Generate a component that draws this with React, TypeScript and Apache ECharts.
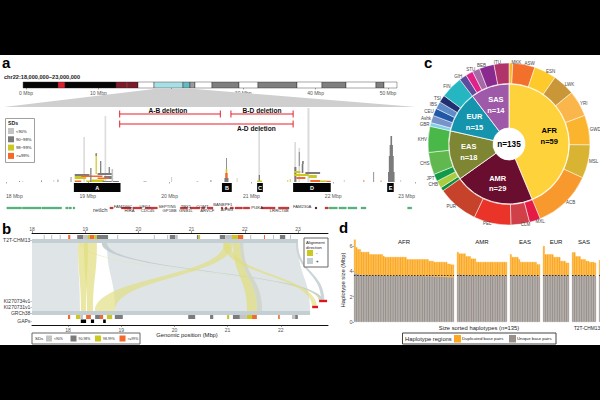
import React, { useEffect, useRef } from "react";
import * as echarts from "echarts";

const FONT = "'Liberation Sans', Arial, sans-serif";
const SD_COLORS = ["#c4c4c4", "#7b7b7b", "#cbc823", "#f3682b", "#dcdcdc"];

// Panel a: ideogram [start Mbp, end Mbp, colour]
const ideogramBands: [number, number, string][] = [
  [-0.4, 4.42, "#050505"], [4.42, 5.39, "#d7232e"], [5.39, 12.43, "#050505"], [12.43, 13.8, "#7d1b28"],
  [13.8, 14.1, "#a8303a"], [14.1, 15.47, "#7d1b28"], [15.47, 17.68, "#ffffff"], [17.68, 21.68, "#a8dfe4"],
  [21.68, 22.65, "#68b8c0"], [22.65, 23.34, "#9c9c9c"], [23.34, 25.69, "#ffffff"], [25.69, 29.42, "#7f7f7f"],
  [29.42, 32.04, "#ffffff"], [32.04, 37.43, "#7f7f7f"], [37.43, 40.88, "#ffffff"], [40.88, 44.2, "#7f7f7f"],
  [44.2, 48.34, "#ffffff"], [48.34, 49.45, "#7f7f7f"], [49.45, 51.24, "#ffffff"],
];
const ideogramTicks = [0, 10, 20, 30, 40, 50];

// Panel a: SD segments [start, end, low, high, class]
const sdSegments: number[][] = [
  [18.945, 18.965, 0, 45, 4], [19.205, 19.225, 0, 66, 4], [21.085, 21.105, 0, 55, 4], [21.525, 21.545, 0, 40, 4],
  [21.575, 21.595, 0, 34, 4], [21.685, 21.71, 0, 74, 4], [19.095, 19.11, 8, 28, 2], [19.095, 19.11, 26, 29, 1],
  [18.84, 19.02, 6, 8, 1], [18.84, 18.98, 3, 6, 2], [18.92, 19.18, 5, 6.5, 3], [18.84, 18.92, 0, 1.5, 3],
  [18.98, 19.05, 0, 1.5, 2], [19.03, 19.045, 0, 14, 1], [19.12, 19.3, 7, 9, 1], [19.15, 19.165, 9, 21, 1],
  [19.2, 19.3, 3, 6, 1], [19.255, 19.27, 9, 15, 1], [19.12, 19.26, 3, 4.5, 3], [19.05, 19.2, 0, 2.5, 2],
  [19.18, 19.38, 0, 1, 1], [19.29, 19.31, 0, 13, 0], [18.43, 18.44, 0, 1.5, 1], [18.16, 18.17, 0, 1, 1],
  [18.63, 18.64, 0, 2.5, 1], [18.79, 18.8, 0, 5, 1], [18.58, 18.59, 0, 2, 0], [19.68, 19.72, 0, 1, 0], [18.2, 18.21, 0, 1, 0],
  [20.02, 20.03, 0, 5, 0], [20.67, 20.72, 0, 4, 1], [20.68, 20.71, 4, 9, 3], [20.685, 20.705, 9, 13, 2],
  [20.69, 20.7, 13, 24, 1], [20.33, 20.35, 0, 1, 0], [20.82, 20.83, 0, 4, 0], [20.5, 20.51, 0, 2, 1],
  [21.07, 21.13, 0, 1.5, 2], [21.09, 21.105, 1.5, 7, 1], [21.44, 21.45, 0, 2, 2], [21.47, 21.48, 0, 3, 2],
  [21.525, 21.55, 0, 15, 1], [21.52, 21.7, 6, 8, 2], [21.52, 21.6, 9, 11, 2], [21.55, 21.66, 3, 5, 3],
  [21.615, 21.635, 9, 18, 1], [21.62, 21.64, 18, 21, 1], [21.66, 21.84, 8, 10, 1], [21.7, 21.8, 4, 7, 2],
  [21.72, 21.84, 0, 2, 3], [21.84, 21.92, 0, 1.5, 2], [21.92, 21.97, 0, 1.2, 3], [21.58, 21.59, 16, 30, 1],
  [22.13, 22.14, 0, 2, 0], [22.37, 22.38, 0, 2, 3], [22.58, 22.59, 0, 1.5, 3], [22.49, 22.5, 0, 10, 1],
  [22.7, 22.72, 0, 46, 1], [22.69, 22.73, 0, 37, 1], [22.68, 22.74, 0, 26, 1], [22.67, 22.75, 0, 10, 1],
  [22.82, 22.83, 0, 2, 0],
];

// Panel a: black SD regions [start, end, label]
const regionStarts = [18.83, 20.64, 21.07, 21.51, 22.66];
const regionEnds = [19.4, 20.76, 21.14, 21.97, 22.74];
const regionNames = ["A", "B", "C", "D", "E"];

// Panel a: deletions [start, end, level]
const deletionSpans: number[][] = [[19.39, 20.62, 68], [20.75, 21.51, 68], [19.39, 21.51, 58]];
const deletionLabels: [string, number, number][] = [
  ["A-B deletion", 19.98, 71.5], ["B-D deletion", 21.13, 72], ["A-D deletion", 21.06, 54],
];

// Panel a: genes [start, end, class 0 green 1 red 2 black]
const geneBlocks: number[][] = [
  [18.01, 18.19, 0], [18.2, 18.43, 0], [18.44, 18.68, 0], [18.73, 18.76, 0], [18.77, 18.8, 0], [18.82, 18.84, 0],
  [19.27, 19.31, 1], [19.41, 19.53, 1], [19.55, 19.66, 1], [19.7, 19.85, 1], [20.13, 20.22, 1], [20.25, 20.37, 1],
  [20.39, 20.43, 1], [20.46, 20.53, 1], [20.63, 20.65, 1], [20.68, 20.7, 1], [20.74, 20.78, 1], [20.8, 20.84, 1],
  [20.84, 20.89, 1], [20.9, 20.98, 1], [21.12, 21.29, 1], [21.33, 21.46, 1], [21.78, 21.8, 2], [21.9, 21.94, 1],
  [21.95, 22.05, 0], [22.07, 22.16, 0], [22.18, 22.29, 0], [22.34, 22.4, 0], [22.91, 22.96, 0],
];
const geneNames: [string, number, number][] = [
  ["FAM246C", 19.43, 4], ["HIRA", 19.51, -5], ["UFD1", 19.7, 4], ["CDC45", 19.73, -5], ["SEPTIN5", 19.97, 4],
  ["GP1BB", 20.0, -5], ["TBX1", 20.2, 4], ["GNB1L", 20.2, -5], ["COMT", 20.4, 4], ["ARVCF", 20.46, -5],
  ["BANBPF1", 20.65, 7], ["AIFM3", 20.7, -3], ["PI4KA", 21.07, 2], ["LRRC74B", 21.34, -5], ["FAM230A", 21.62, 4],
];

// Panel b: alignment ribbons [T2T start, T2T end, GRCh38 start, GRCh38 end, lower row, colour, opacity]
const T2T_OFFSET = 0.677;
const ribbons: [number, number, number, number, number, string, number][] = [
  [18.0, 18.865, 17.323, 18.226, 78, "#dfe5e6", 1],
  [19.41, 23.0, 18.883, 22.55, 78, "#dfe5e6", 1],
  [19.31, 19.41, 22.72, 22.79, 68, "#bfcbce", 0.9],
  [22.96, 23.0, 22.76, 22.82, 68, "#ccd5d8", 1],
  [21.91, 21.97, 21.55, 21.65, 78, "#cfd6c8", 0.9],
  [18.865, 19.05, 18.244, 18.338, 78, "#e0dd7c", 0.7],
  [18.977, 19.22, 18.357, 18.47, 78, "#e0dd7c", 0.7],
  [21.61, 21.78, 18.507, 18.883, 78, "#e0dd7c", 0.65],
  [21.59, 21.72, 22.59, 22.68, 74, "#e0dd7c", 0.65],
  [21.78, 21.91, 21.365, 21.55, 78, "#e0dd7c", 0.7],
  [18.9, 18.95, 22.72, 22.76, 68, "#e4e29a", 0.6],
];
const topTiles: number[][] = [
  [18.22, 18.24, 0], [18.36, 18.38, 0], [18.52, 18.54, 0], [18.68, 18.72, 3], [18.85, 18.96, 1], [18.96, 19.09, 0],
  [19.09, 19.17, 3], [19.05, 19.09, 2], [19.17, 19.22, 2], [19.22, 19.43, 1], [19.6, 19.62, 0], [20.29, 20.31, 0], [20.54, 20.56, 0],
  [20.59, 20.69, 1], [20.69, 20.74, 0], [21.1, 21.13, 1], [21.13, 21.16, 2], [21.53, 21.63, 1], [21.63, 21.76, 0], [21.76, 21.87, 2],
  [21.87, 21.97, 3], [22.1, 22.12, 0], [22.36, 22.38, 3], [22.53, 22.55, 0], [22.66, 22.76, 1], [22.85, 22.87, 0],
];
const bottomTiles: number[][] = [
  [18.0, 18.04, 3], [18.15, 18.23, 2], [18.23, 18.28, 0], [18.34, 18.43, 3], [18.51, 18.6, 1], [18.6, 18.66, 3],
  [18.73, 18.83, 2], [18.88, 19.03, 1], [20.26, 20.39, 1], [20.67, 20.73, 1], [20.99, 21.03, 2], [21.1, 21.23, 1],
  [21.23, 21.36, 0], [21.36, 21.46, 2], [21.46, 21.55, 3], [21.95, 21.98, 3], [22.21, 22.27, 0], [22.27, 22.32, 1],
];
const gapBlocks: number[][] = [[18.24, 18.34], [18.43, 18.49], [18.66, 18.71]];
const contigs: number[][] = [[22.72, 22.87, 68], [22.59, 22.7, 74]];
const topTicks = [18, 19, 20, 21, 22, 23];
const bottomTicks = [18, 19, 20, 21, 22];

// Panel c
const superPops = ["AFR", "AMR", "EAS", "EUR", "SAS"];
const superCounts = [59, 29, 18, 15, 14];
const superColors = ["#fdd23b", "#6a0e2f", "#7e8533", "#1594ae", "#9e59a8"];
const superText = ["#000000", "#ffffff", "#ffffff", "#ffffff", "#ffffff"];
const popNames = ["MKK", "ASW", "ESN", "LWK", "YRI", "GWD", "MSL", "ACB", "MXL", "CLM", "PEL", "PUR", "CDX", "CHB", "JPT", "CHS", "KHV", "GBR", "Ashk", "CEU", "IBS", "TSI", "FIN", "GIH", "PJL", "STU", "BEB", "ITU"];
const popCounts = [1, 6, 6, 6, 7, 8, 9, 16, 3, 5, 10, 11, 1, 2, 2, 6, 7, 1, 2, 2, 2, 2, 6, 2, 2, 2, 4, 4];
const popColors = ["#f7b92a", "#f36f2c", "#fdc92b", "#c99638", "#fbb64b", "#fbb42d", "#d9b332", "#f7992c", "#e31b45", "#cf4048", "#ea3329", "#c7422b", "#0f8e3f", "#aacd3f", "#129a4a", "#60b84e", "#4ab849", "#7fd0ea", "#7893c9", "#1f58a6", "#5e8cc8", "#212f70", "#26b6c2", "#5e4b9e", "#e0218a", "#a569a8", "#8b2a8e", "#b0336a"];

// Panel d: haplotype totals and unique base pairs (Mbp)
const afrTotal = [6.5, 5.9, 5.74, 5.74, 5.53, 5.53, 5.53, 5.53, 5.53, 5.34, 5.34, 5.34, 5.34, 5.34, 5.34, 5.34, 5.34, 5.2, 5.13, 5.13, 5.13, 5.13, 5.13, 5.13, 5.13, 5.13, 5.13, 5.13, 5.13, 5.13, 5.13, 4.95, 4.95, 4.95, 4.95, 4.95, 4.95, 4.95, 4.95, 4.95, 4.95, 4.95, 4.95, 4.95, 4.82, 4.82, 4.82, 4.74, 4.74, 4.74, 4.74, 4.74, 4.74, 4.74, 4.74, 4.6, 4.6, 4.53, 4.53];
const afrUnique = [3.85, 3.82, 3.78, 3.75, 3.72, 3.72, 3.7, 3.7, 3.7, 3.7, 3.7, 3.68, 3.68, 3.68, 3.68, 3.68, 3.68, 3.68, 3.66, 3.66, 3.66, 3.66, 3.66, 3.66, 3.66, 3.66, 3.66, 3.65, 3.65, 3.65, 3.65, 3.65, 3.65, 3.65, 3.64, 3.64, 3.64, 3.64, 3.64, 3.64, 3.63, 3.63, 3.63, 3.62, 3.62, 3.62, 3.6, 3.6, 3.6, 3.6, 3.58, 3.58, 3.58, 3.56, 3.56, 3.55, 3.55, 3.54, 3.54];
const amrTotal = [5.53, 5.4, 5.4, 5.4, 5.4, 5.18, 5.18, 5.18, 5.0, 5.0, 5.0, 4.74, 4.74, 4.74, 4.74, 4.74, 4.74, 4.74, 4.74, 4.74, 4.74, 4.74, 4.74, 4.74, 4.74, 4.74, 4.74, 4.74, 4.74];
const amrUnique = [3.72, 3.85, 3.72, 3.7, 3.7, 3.68, 3.68, 3.68, 3.66, 3.66, 3.66, 3.66, 3.65, 3.65, 3.65, 3.65, 3.65, 3.65, 3.65, 3.65, 3.65, 3.65, 3.65, 3.65, 3.65, 3.65, 3.65, 3.65, 3.65];
const easTotal = [5.34, 5.13, 5.13, 5.13, 5.13, 4.95, 4.74, 4.74, 4.74, 4.74, 4.74, 4.74, 4.74, 4.74, 4.74, 4.74, 4.55, 4.55];
const easUnique = [3.68, 3.68, 3.68, 3.66, 3.66, 3.66, 3.65, 3.65, 3.65, 3.65, 3.65, 3.65, 3.65, 3.65, 3.65, 3.65, 3.62, 3.62];
const eurTotal = [6.0, 5.34, 5.34, 5.34, 5.34, 5.34, 5.13, 5.13, 5.13, 5.13, 4.82, 4.82, 4.82, 4.68, 4.68];
const eurUnique = [3.75, 3.72, 3.72, 3.7, 3.7, 3.7, 3.7, 3.7, 3.68, 3.68, 3.68, 3.68, 3.68, 3.66, 3.66];
const sasTotal = [5.5, 5.5, 5.18, 5.18, 5.18, 4.95, 4.95, 4.95, 4.82, 4.82, 4.74, 4.74, 4.74, 4.68];
const sasUnique = [3.72, 3.7, 3.68, 3.68, 3.68, 3.66, 3.66, 3.66, 3.65, 3.65, 3.65, 3.65, 3.65, 3.65];
const t2tTotal = [4.9];
const t2tUnique = [3.7];
const facetTitles = ["AFR", "AMR", "EAS", "EUR", "SAS", ""];
const facetTotals = [afrTotal, amrTotal, easTotal, eurTotal, sasTotal, t2tTotal];
const facetUniques = [afrUnique, amrUnique, easUnique, eurUnique, sasUnique, t2tUnique];
const sizeTicks = [0, 2, 4, 6];
const uniqueMean = 3.7;

const facetLefts = [354, 457, 510, 543, 572, 599];
const facetWidths = [100, 50, 30, 26, 24, 4];

const rectItem = (api: any, x0: number, x1: number, y0: number, y1: number, style: any) => {
  const a = api.coord([x0, y0]);
  const b = api.coord([x1, y1]);
  return {
    type: "rect",
    shape: { x: Math.min(a[0], b[0]), y: Math.min(a[1], b[1]), width: Math.abs(b[0] - a[0]), height: Math.abs(b[1] - a[1]) },
    style,
  };
};

const txt = (text: string, x: number, y: number, size: number, extra: any = {}) => ({
  type: "text",
  z: 50,
  x,
  y,
  style: { text, fontSize: size, fontFamily: FONT, fill: "#222", align: "left", verticalAlign: "middle", ...extra },
});
const box = (x: number, y: number, w: number, h: number, fill: string, stroke?: string, lw = 0.8) => ({
  type: "rect",
  z: 49,
  shape: { x, y, width: w, height: h },
  style: { fill, stroke, lineWidth: lw },
});

function buildOption() {
  const axisText = { fontSize: 5, fontFamily: FONT, color: "#555" };
  const grids: any[] = [
    { left: 26, top: 82, width: 362, height: 6 },
    { left: 6, top: 108, width: 409, height: 84 },
    { left: 6, top: 204, width: 409, height: 8 },
    { left: 32, top: 233, width: 296, height: 92 },
    ...facetLefts.map((l, i) => ({ left: l, top: 233.33, width: facetWidths[i], height: 88.67 })),
  ];
  const xAxes: any[] = [
    {
      type: "value", gridIndex: 0, min: 0, max: 50, interval: 10, position: "bottom",
      axisLine: { show: false }, splitLine: { show: false },
      axisTick: { length: 1.5, lineStyle: { color: "#555", width: 0.5 }, customValues: ideogramTicks },
      axisLabel: { ...axisText, margin: 2, customValues: ideogramTicks, formatter: (v: number) => `${v} Mbp` },
    },
    {
      type: "value", gridIndex: 1, min: 18, max: 23, interval: 1, position: "bottom",
      axisLine: { show: false }, splitLine: { show: false },
      axisTick: { length: 1.5, lineStyle: { color: "#555", width: 0.5 } },
      axisLabel: { ...axisText, margin: 1.5, alignMinLabel: "left", alignMaxLabel: "right", formatter: (v: number) => `${v} Mbp` },
    },
    { type: "value", gridIndex: 2, min: 18, max: 23, show: false },
    {
      type: "value", gridIndex: 3, min: 18, max: 23.564, position: "top",
      axisLine: { lineStyle: { color: "#111", width: 1 } }, splitLine: { show: false },
      axisTick: { length: 2, lineStyle: { color: "#333", width: 0.5 }, customValues: topTicks },
      axisLabel: { ...axisText, margin: 2, customValues: topTicks },
    },
    {
      type: "value", gridIndex: 3, min: 17.323, max: 22.887, position: "bottom",
      axisLine: { lineStyle: { color: "#111", width: 1 } }, splitLine: { show: false },
      axisTick: { length: 2, lineStyle: { color: "#333", width: 0.5 }, customValues: bottomTicks },
      axisLabel: { ...axisText, margin: 2, customValues: bottomTicks },
    },
    ...facetTotals.map((t, i) => ({
      type: "category", gridIndex: 4 + i, data: t.map((_, k) => k), show: false,
    })),
  ];
  const yAxes: any[] = [
    { type: "value", gridIndex: 0, min: 0, max: 1, show: false },
    { type: "value", gridIndex: 1, min: -10, max: 74, show: false },
    { type: "value", gridIndex: 2, min: -8, max: 8, show: false },
    { type: "value", gridIndex: 3, min: 0, max: 92, inverse: true, show: false },
    ...facetTotals.map((_, i) => ({
      type: "value", gridIndex: 4 + i, min: 0, max: 7, show: i === 0,
      axisLine: { show: false }, splitLine: { show: false },
      axisTick: { show: true, length: 1.5, lineStyle: { color: "#555", width: 0.5 }, customValues: sizeTicks },
      axisLabel: { ...axisText, fontSize: 5.5, margin: 1.5, customValues: sizeTicks },
    })),
  ];

  const series: any[] = [];
  const custom = (grid: number, xIdx: number, yIdx: number, data: any[], renderItem: any, z = 3) =>
    series.push({ type: "custom", coordinateSystem: "cartesian2d", xAxisIndex: xIdx, yAxisIndex: yIdx, data, renderItem, silent: true, z, clip: false, animation: false });

  // ideogram
  custom(0, 0, 0, ideogramBands.map((b) => [b[0], b[1]]), (p: any, api: any) => {
    const b = ideogramBands[p.dataIndex];
    return rectItem(api, b[0], b[1], 0, 1, { fill: b[2], stroke: "#222", lineWidth: 0.4 });
  });

  // SD track panel a
  custom(1, 1, 1, sdSegments, (p: any, api: any) => {
    const s = sdSegments[p.dataIndex];
    return rectItem(api, s[0], s[1], s[2], s[3], { fill: SD_COLORS[s[4]] });
  });
  custom(1, 1, 1, regionStarts.map((s, i) => [s, regionEnds[i]]), (p: any, api: any) => {
    const i = p.dataIndex;
    const r = rectItem(api, regionStarts[i], regionEnds[i], -1, -10, { fill: "#050505" });
    const c = api.coord([(regionStarts[i] + regionEnds[i]) / 2, -5.5]);
    return {
      type: "group",
      children: [r, { type: "text", x: c[0], y: c[1], style: { text: regionNames[i], fill: "#fff", fontSize: 5.5, fontWeight: "bold", fontFamily: FONT, align: "center", verticalAlign: "middle" } }],
    };
  });
  custom(1, 1, 1, deletionSpans, (p: any, api: any) => {
    const d = deletionSpans[p.dataIndex];
    const a = api.coord([d[0], d[2]]);
    const b = api.coord([d[1], d[2]]);
    const st = { stroke: "#e8212b", lineWidth: 1 };
    return {
      type: "group",
      children: [
        { type: "line", shape: { x1: a[0], y1: a[1], x2: b[0], y2: b[1] }, style: st },
        { type: "line", shape: { x1: a[0], y1: a[1] - 3.5, x2: a[0], y2: a[1] + 3.5 }, style: st },
        { type: "line", shape: { x1: b[0], y1: b[1] - 3.5, x2: b[0], y2: b[1] + 3.5 }, style: st },
      ],
    };
  }, 6);
  custom(1, 1, 1, deletionLabels.map((d) => [d[1], d[2]]), (p: any, api: any) => {
    const d = deletionLabels[p.dataIndex];
    const c = api.coord([d[1], d[2]]);
    return { type: "text", x: c[0], y: c[1], style: { text: d[0], fill: "#111", fontSize: 6.6, fontWeight: "bold", fontFamily: FONT, align: "center", verticalAlign: "middle" } };
  }, 6);

  // genes
  custom(2, 2, 2, geneBlocks, (p: any, api: any) => {
    const g = geneBlocks[p.dataIndex];
    const fill = ["#4cb578", "#d7262b", "#111"][g[2]];
    return rectItem(api, g[0], g[1], -1.8, 1.8, { fill, stroke: g[2] === 0 ? "#2d8f55" : "#9c1a1a", lineWidth: 0.3 });
  });
  custom(2, 2, 2, geneNames.map((g) => [g[1], g[2]]), (p: any, api: any) => {
    const g = geneNames[p.dataIndex];
    const c = api.coord([g[1], g[2]]);
    return { type: "text", x: c[0], y: c[1], style: { text: g[0], fill: "#333", fontSize: 4.2, fontFamily: FONT, align: "center", verticalAlign: "middle" } };
  });

  // panel b ribbons
  custom(3, 3, 3, ribbons.map((r) => [r[0], r[1], r[4]]), (p: any, api: any) => {
    const r = ribbons[p.dataIndex];
    const yT = 10;
    const yB = r[4];
    const ym = (yT + yB) / 2;
    const a = api.coord([r[0], yT]);
    const b = api.coord([r[1], yT]);
    const c = api.coord([r[2] + T2T_OFFSET, yB]);
    const d = api.coord([r[3] + T2T_OFFSET, yB]);
    const m = api.coord([r[0], ym])[1];
    const pathData = `M${a[0]} ${a[1]} C${a[0]} ${m} ${c[0]} ${m} ${c[0]} ${c[1]} L${d[0]} ${d[1]} C${d[0]} ${m} ${b[0]} ${m} ${b[0]} ${b[1]} Z`;
    return { type: "path", shape: { pathData }, style: { fill: r[5], opacity: r[6] } };
  }, 2);
  custom(3, 3, 3, [[18, 6]], (_: any, api: any) => rectItem(api, 18, 23, 6, 10, { fill: "#c3cfd2" }), 3);
  custom(3, 4, 3, [[17.323, 78]], (_: any, api: any) => rectItem(api, 17.323, 22.55, 78, 82, { fill: "#c3cfd2" }), 3);
  custom(3, 3, 3, topTiles, (p: any, api: any) => {
    const t = topTiles[p.dataIndex];
    return rectItem(api, t[0], t[1], 2, 6, { fill: SD_COLORS[t[2]] });
  }, 4);
  custom(3, 4, 3, bottomTiles, (p: any, api: any) => {
    const t = bottomTiles[p.dataIndex];
    return rectItem(api, t[0], t[1], 82, 86, { fill: SD_COLORS[t[2]] });
  }, 4);
  custom(3, 4, 3, gapBlocks, (p: any, api: any) => {
    const t = gapBlocks[p.dataIndex];
    return rectItem(api, t[0], t[1], 86.5, 90, { fill: "#000" });
  }, 4);
  custom(3, 4, 3, contigs, (p: any, api: any) => {
    const t = contigs[p.dataIndex];
    return rectItem(api, t[0], t[1], t[2] - 1.2, t[2] + 1.2, { fill: "#e0141e" });
  }, 5);

  // panel c
  series.push({
    type: "pie", center: [509, 144], radius: [16, 60], startAngle: 90, clockwise: true, silent: true, animation: false,
    avoidLabelOverlap: false, labelLine: { show: false },
    itemStyle: { borderColor: "#fff", borderWidth: 0.8 },
    data: superPops.map((n, i) => ({
      name: n, value: superCounts[i], itemStyle: { color: superColors[i] },
      label: { show: true, position: "inside", formatter: `${n}\nn=${superCounts[i]}`, color: superText[i], fontSize: 7.5, lineHeight: 10.5, fontWeight: "bold", fontFamily: FONT },
    })),
  });
  series.push({
    type: "pie", center: [509, 144], radius: [60.5, 81], startAngle: 90, clockwise: true, silent: true, animation: false,
    avoidLabelOverlap: false,
    itemStyle: { borderColor: "#fff", borderWidth: 0.5 },
    labelLine: { show: false, length: 0.5, length2: 0 },
    label: { show: true, position: "outside", fontSize: 4.5, color: "#444", fontFamily: FONT, distanceToLabelLine: 0.5 },
    data: popNames.map((n, i) => ({ name: n, value: popCounts[i], itemStyle: { color: popColors[i] } })),
  });

  // panel d
  facetTotals.forEach((total, i) => {
    const unique = facetUniques[i];
    series.push({
      type: "bar", xAxisIndex: 5 + i, yAxisIndex: 4 + i, stack: `s${i}`, barWidth: "100%", silent: true, animation: false,
      data: unique, itemStyle: { color: "#97908b", borderColor: "#a39d98", borderWidth: 0.4 },
      markLine: {
        silent: true, symbol: "none", animation: false, label: { show: false },
        lineStyle: { color: "#111", type: [1.5, 1.5], width: 0.8 }, data: [{ yAxis: uniqueMean }],
      },
    });
    series.push({
      type: "bar", xAxisIndex: 5 + i, yAxisIndex: 4 + i, stack: `s${i}`, barWidth: "100%", silent: true, animation: false,
      data: total.map((t, k) => +(t - unique[k]).toFixed(2)), itemStyle: { color: "#fba71f", borderColor: "#fcae2e", borderWidth: 0.4 },
    });
  });

  const graphic: any[] = [
    { type: "polygon", z: 1, shape: { points: [[154, 89], [195, 89], [416, 107], [4, 107]] }, style: { fill: "#cfcfcf" } },
    txt("a", 2, 62, 15, { fontWeight: "bold", fill: "#000" }),
    txt("b", 2, 228, 15, { fontWeight: "bold", fill: "#000" }),
    txt("c", 424, 62, 15, { fontWeight: "bold", fill: "#000" }),
    txt("d", 339, 227, 15, { fontWeight: "bold", fill: "#000" }),
    txt("chr22:18,000,000\u221223,000,000", 4, 77, 5.6, { fontWeight: "bold" }),
    // SD legend panel a
    box(5.5, 118.5, 29, 44, "#fff", "#888", 0.8),
    txt("SDs", 8, 123, 5.2, { fontWeight: "bold" }),
    ...["<90%", "90\u221298%", "98\u221299%", ">=99%"].flatMap((l, i) => [
      box(8, 128 + i * 8.3, 6, 6, SD_COLORS[i]),
      txt(l, 16, 131 + i * 8.3, 4.2),
    ]),
    txt("retlch", 93, 210, 6, { fill: "#444" }),
    // Panel b labels
    ...([["T2T-CHM13-", 240], ["KI270734v1-", 301], ["KI270731v1-", 307], ["GRCh38-", 313], ["GAPs-", 321]] as [string, number][]).map(
      ([l, y]) => txt(l, 32, y, 5, { align: "right", fill: "#333" }),
    ),
    txt("Genomic position (Mbp)", 187, 335, 5.8, { align: "center" }),
    box(304, 238, 24, 29, "#fff", "#666", 1),
    txt("Alignment", 306, 242, 4.2),
    txt("direction", 306, 247, 4.2),
    box(307, 250, 6, 6, "#cbc823"),
    txt("-", 316, 253, 4.5),
    box(307, 258, 6, 6, "#c3cfd2"),
    txt("+", 316, 261, 4.5),
    box(32, 333, 108, 11, "#fff", "#666", 1),
    txt("SDs", 35, 338.5, 4.4),
    ...["<90%", "90-98%", "98-99%", ">=99%"].flatMap((l, i) => [
      box(46 + i * 24.5, 335.5, 6, 6, SD_COLORS[i]),
      txt(l, 54 + i * 24.5, 338.5, 3.4),
    ]),
    // Panel c centre
    txt("n=135", 509, 144, 8.2, { align: "center", fontWeight: "bold", fill: "#000" }),
    // Panel d labels
    ...facetTitles.map((t, i) => (t ? txt(t, facetLefts[i] + facetWidths[i] / 2, 241.5, 6, { align: "center", fill: "#111" }) : null)).filter(Boolean),
    { ...txt("Haplotype size (Mbp)", 343, 280, 5.8, { align: "center" }), rotation: Math.PI / 2 },
    txt("Size sorted haplotypes (n=135)", 479, 328, 5.8, { align: "center" }),
    txt("T2T-CHM13", 587, 328.5, 4.8, { align: "center" }),
    box(402.5, 333, 153.5, 11, "#fff", "#444", 1),
    txt("Haplotype regions", 405, 338.5, 5.8),
    box(454, 335, 7, 7.5, "#fba71f"),
    txt("Duplicated base pairs", 462, 338.5, 4.3),
    box(509, 335, 7, 7.5, "#97908b"),
    txt("Unique base pairs", 517, 338.5, 4.3),
    // letterbox
    { type: "rect", z: 900, shape: { x: 0, y: 0, width: 600, height: 55 }, style: { fill: "#000" } },
    { type: "rect", z: 900, shape: { x: 0, y: 345, width: 600, height: 55 }, style: { fill: "#000" } },
  ];

  return { animation: false, backgroundColor: "#fff", grid: grids, xAxis: xAxes, yAxis: yAxes, series, graphic };
}

export default function App() {
  const ref = useRef<HTMLDivElement>(null);
  useEffect(() => {
    const chart = echarts.init(ref.current!, undefined, { renderer: "svg" });
    chart.setOption(buildOption() as any);
    return () => chart.dispose();
  }, []);
  return <div ref={ref} style={{ position: "fixed", left: 0, top: 0, width: 600, height: 400 }} />;
}
